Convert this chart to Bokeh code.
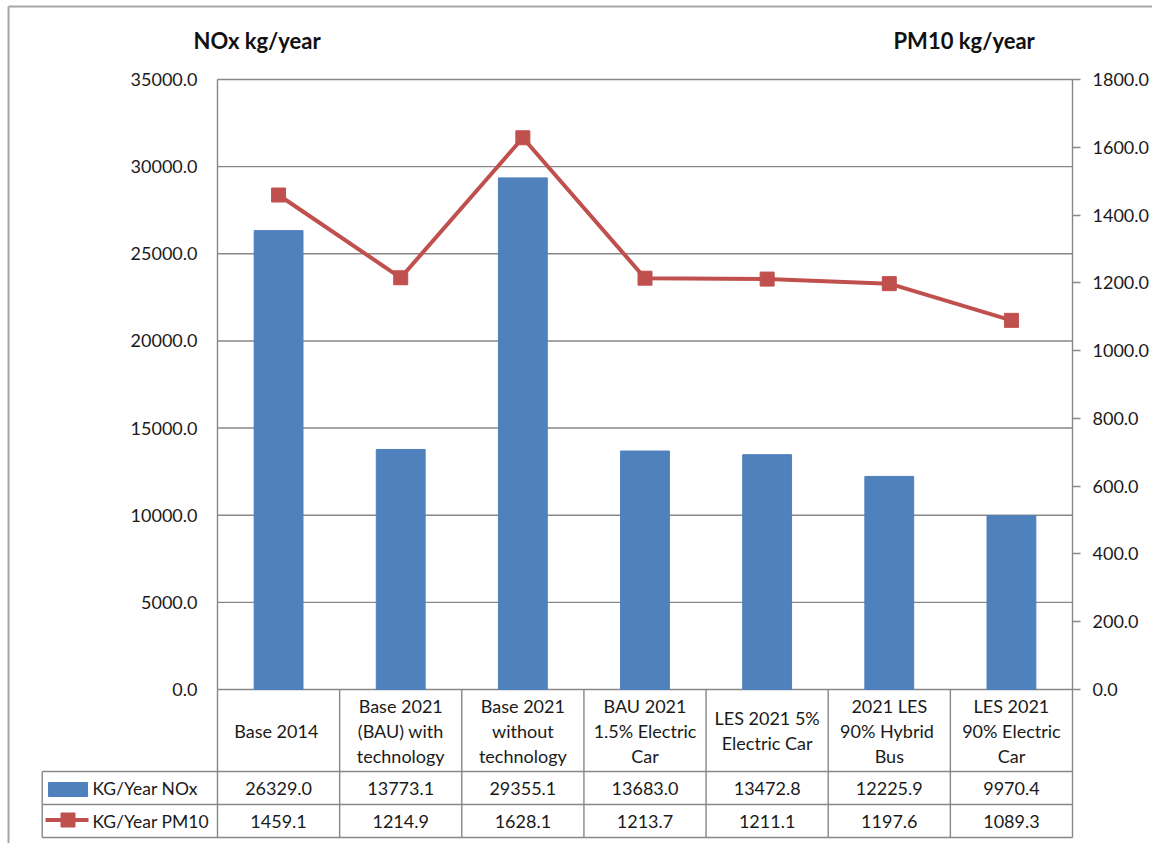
from bokeh.plotting import figure
from bokeh.models import Range1d, LinearAxis, FixedTicker, NumeralTickFormatter
from bokeh.embed import file_html
from bokeh.resources import INLINE
from bokeh.core.properties import value

# ---------------- data ----------------
categories = [
    "Base  2014",
    "Base 2021\n(BAU) with\ntechnology",
    "Base 2021\nwithout\ntechnology",
    "BAU 2021\n1.5% Electric\nCar",
    "LES 2021 5%\nElectric Car",
    "2021 LES\n90%  Hybrid\nBus",
    "LES 2021\n90% Electric\nCar",
]
nox = [26329.0, 13773.1, 29355.1, 13683.0, 13472.8, 12225.9, 9970.4]
pm10 = [1459.1, 1214.9, 1628.1, 1213.7, 1211.1, 1197.6, 1089.3]
series_names = ["KG/Year NOx", "KG/Year PM10"]
nox_ticks = [0, 5000, 10000, 15000, 20000, 25000, 30000, 35000]
pm_ticks = [0, 200, 400, 600, 800, 1000, 1200, 1400, 1600, 1800]
left_title = "NOx kg/year"
right_title = "PM10 kg/year"

# ---------------- style ----------------
FONT = "Lato"
FS = "18px"
TXT = "#1a1a1a"
GREY = "#878787"
BLUE = "#4F81BD"
RED = "#C0504D"
LW = 1.4

W, H = 1152, 843
n = len(categories)
xs = [i + 0.5 for i in range(n)]

# layout in canvas pixels: plot area 217..1072 x 79..689
FL, FR, FT, FB = 217, 1072, 79, 689
UNIT = (FR - FL) / n
NOX_MAX = nox_ticks[-1]
PM_MAX = pm_ticks[-1]


def tx(px):
    return (px - FL) / UNIT


def ty(px, top):
    return top * (FB - px) / (FB - FT)


p = figure(
    width=W, height=H,
    x_range=Range1d(tx(0), tx(W)),
    y_range=Range1d(ty(H, NOX_MAX), ty(0, NOX_MAX)),
    x_axis_location=None, y_axis_location=None,
    output_backend="svg", toolbar_location=None, min_border=0,
)
p.min_border_left = p.min_border_right = 0
p.min_border_top = p.min_border_bottom = 0
p.outline_line_color = None
p.background_fill_color = "white"
p.border_fill_color = "white"
p.grid.visible = False
p.extra_y_ranges = {
    "pm": Range1d(ty(H, PM_MAX), ty(0, PM_MAX)),
    "px": Range1d(H, 0),
}

ya = LinearAxis(
    ticker=FixedTicker(ticks=nox_ticks), formatter=NumeralTickFormatter(format="0.0"),
    bounds=(0, NOX_MAX), fixed_location=0,
    axis_line_color=GREY, axis_line_width=LW, major_tick_out=0, major_tick_in=0,
    minor_tick_line_color=None, major_label_standoff=20,
    major_label_text_font=FONT, major_label_text_font_size=FS,
    major_label_text_color=TXT,
)
p.add_layout(ya, "left")

ra = LinearAxis(
    y_range_name="pm", ticker=FixedTicker(ticks=pm_ticks),
    formatter=NumeralTickFormatter(format="0.0"),
    bounds=(0, PM_MAX), fixed_location=n,
    axis_line_color=GREY, axis_line_width=LW, major_tick_line_color=GREY,
    major_tick_line_width=LW, major_tick_out=8, major_tick_in=0,
    minor_tick_line_color=None, major_label_standoff=12,
    major_label_text_font=FONT, major_label_text_font_size=FS,
    major_label_text_color=TXT,
)
p.add_layout(ra, "right")

# gridlines (incl. top and bottom border of the plot area)
p.segment(x0=[0] * len(nox_ticks), x1=[n] * len(nox_ticks), y0=nox_ticks,
          y1=nox_ticks, line_color=GREY, line_width=LW)

# series
p.vbar(x=xs, top=nox, width=0.4, color=BLUE)
p.line(xs, pm10, y_range_name="pm", line_color=RED, line_width=4)
p.scatter(xs, pm10, y_range_name="pm", marker="square", size=14,
          fill_color=RED, line_color=RED)

# outer chart border (top & left)
p.segment(x0=[tx(8), tx(8)], x1=[tx(W), tx(8)], y0=[6, 6], y1=[6, H],
          y_range_name="px", line_color="#a6a6a6", line_width=2)

# axis titles
p.text([tx(193), tx(893)], [40, 40], text=[left_title, right_title],
       y_range_name="px", text_align="left", text_baseline="middle",
       text_font=value(FONT), text_font_size="22px", text_font_style="bold",
       text_color="#111111")

# ---------------- data table ----------------
ROW1, ROW2, ROWB = 771, 804, 837
LEFTX = tx(41.7)
x0 = [LEFTX, LEFTX, LEFTX, LEFTX] + list(range(n + 1))
x1 = [n, n, n, LEFTX] + list(range(n + 1))
y0 = [ROW1, ROW2, ROWB, ROW1] + [FB] * (n + 1)
y1 = [ROW1, ROW2, ROWB, ROWB] + [ROWB] * (n + 1)
p.segment(x0, y0, x1, y1, y_range_name="px", line_color=GREY, line_width=LW)

hx, hy, ht = [], [], []
for i, cat in enumerate(categories):
    lines = cat.split("\n")
    for k, ln in enumerate(lines):
        hx.append(xs[i])
        hy.append(730 + (k - (len(lines) - 1) / 2) * 25)
        ht.append(ln)
p.text(hx, hy, text=ht, y_range_name="px", text_align="center",
       text_baseline="middle", text_font=value(FONT), text_font_size=FS,
       text_color=TXT)

r1y = (ROW1 + ROW2) / 2
r2y = (ROW2 + ROWB) / 2
p.text(xs, [r1y] * n, text=[f"{v:.1f}" for v in nox], y_range_name="px",
       text_align="center", text_baseline="middle", text_font=value(FONT),
       text_font_size=FS, text_color=TXT)
p.text(xs, [r2y] * n, text=[f"{v:.1f}" for v in pm10], y_range_name="px",
       text_align="center", text_baseline="middle", text_font=value(FONT),
       text_font_size=FS, text_color=TXT)

# legend keys inside the table
p.quad(left=[tx(48)], right=[tx(87)], top=[782], bottom=[796],
       y_range_name="px", color=BLUE)
p.line([tx(45), tx(88)], [r2y - 1, r2y - 1], y_range_name="px",
       line_color=RED, line_width=4)
p.scatter([tx(67.5)], [r2y - 1], y_range_name="px", marker="square", size=14,
          fill_color=RED, line_color=RED)
p.text([tx(92), tx(92)], [r1y, r2y], text=series_names, y_range_name="px",
       text_align="left", text_baseline="middle", text_font=value(FONT),
       text_font_size="17.5px", text_color=TXT)

with open("out.html", "w") as f:
    f.write(file_html(p, INLINE, title="NOx and PM10"))
